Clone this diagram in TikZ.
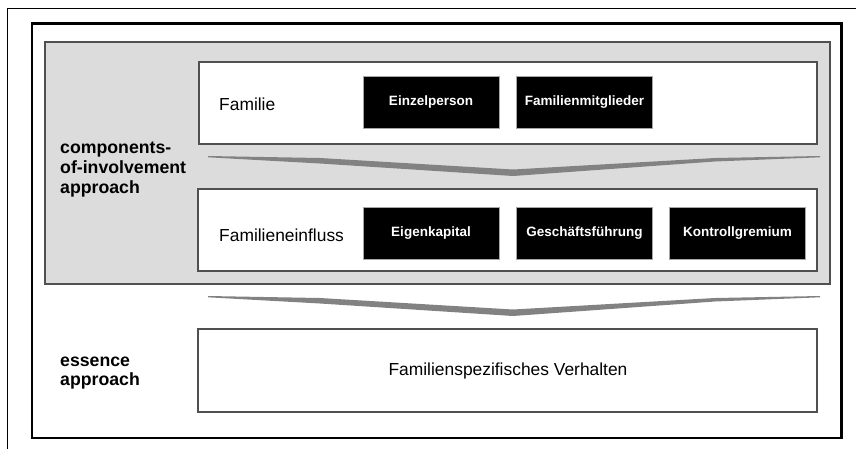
\documentclass[tikz,border=0pt]{standalone}
\usepackage{fontspec}
\setmainfont{Liberation Sans}
\definecolor{panelgray}{HTML}{DCDCDC}
\definecolor{edgegray}{HTML}{505050}
\definecolor{chevgray}{HTML}{828282}
\begin{document}
\begin{tikzpicture}[x=1pt,y=-1pt,
  lvlbox/.style={draw=edgegray, line width=1.1pt, fill=white, inner sep=0pt},
  blackbox/.style={draw=gray!70, line width=0.8pt, fill=black, text=white, inner sep=0pt,
    minimum width=136pt, minimum height=52pt, font=\fontsize{13.5}{16}\selectfont\bfseries},
  lbl/.style={inner sep=0pt, anchor=west, font=\fontsize{17.4}{20}\selectfont},
  approach/.style={inner sep=0pt, anchor=west, align=left, font=\fontsize{17.7}{19.6}\selectfont\bfseries},
  chev/.style={fill=chevgray, draw=none}
]
\useasboundingbox (0,0) rectangle (856,448);
\clip (0,0) rectangle (856,448);
% outer thin frame (continues beyond the visible area)
\draw[line width=1pt] (7,8) rectangle (870,460);
% thick frame
\draw[line width=2.4pt] (32,23.5) rectangle (841.5,438);
% grey panel
\node[draw=edgegray, line width=1.1pt, fill=panelgray, inner sep=0pt,
  minimum width=785pt, minimum height=242pt] (panel) at (437.5,163) {};
% level boxes
\node[lvlbox, minimum width=618pt, minimum height=82pt] (familie) at (508,103) {};
\node[lvlbox, minimum width=619pt, minimum height=82pt] (einfluss) at (507.5,230) {};
\node[lvlbox, minimum width=619pt, minimum height=83pt] (essence) at (507.5,370.5) {};
% texts in level boxes
\node[lbl] (tfam) at (219,104) {Familie};
\node[lbl] (tein) at (219,235) {Familieneinfluss};
\node[inner sep=0pt, font=\fontsize{17.4}{20}\selectfont] (tess) at (508,371) {Familienspezifisches Verhalten};
% black boxes
\node[blackbox] (einzel) at (431,102) {Einzelperson};
\node[blackbox] (mitgl) at (584.5,102) {Familienmitglieder};
\node[blackbox] (eigen) at (431,233.5) {Eigenkapital};
\node[blackbox] (gf) at (584.5,233.5) {Geschäftsführung};
\node[blackbox] (kg) at (737.5,233.5) {Kontrollgremium};
% approach labels
\node[approach] (coa) at (60,169.5) {components-\\of-involvement\\approach};
\node[approach] (ess) at (60,373) {essence\\approach};
% chevrons
\fill[chev] (208,156) -- (320,158) -- (513,169.5) -- (715,158) -- (820,156)
  -- (820,157.3) -- (715,161.5) -- (513,176) -- (320,163.5) -- (208,157.3) -- cycle;
\fill[chev] (208,296) -- (320,298) -- (513,309.5) -- (715,298) -- (820,296)
  -- (820,297.3) -- (715,301.5) -- (513,316) -- (320,303.5) -- (208,297.3) -- cycle;
\end{tikzpicture}
\end{document}
